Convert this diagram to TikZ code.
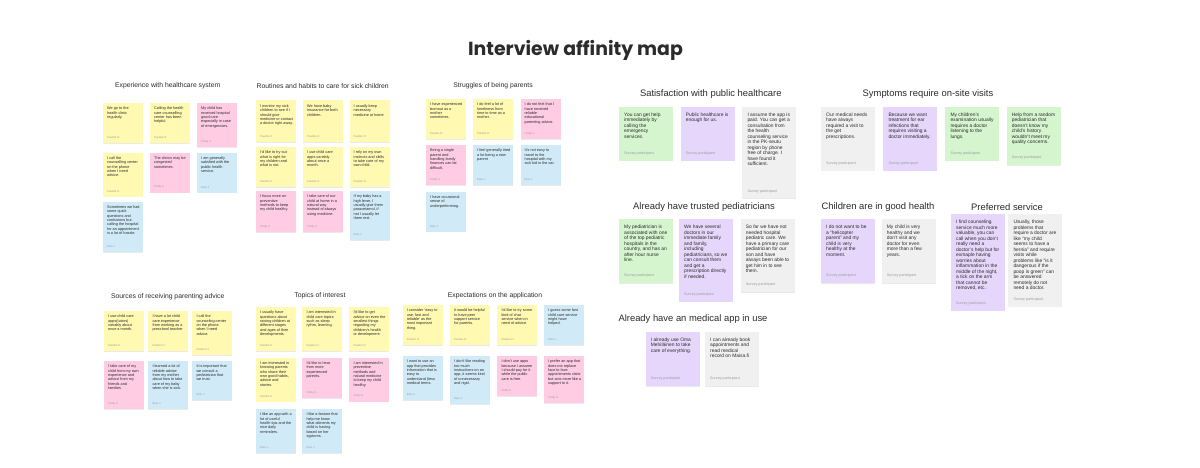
\documentclass[tikz,border=0pt]{standalone}
\usepackage{fontspec}
\setmainfont{Liberation Sans}
\newfontfamily\poppins{Poppins}
\usetikzlibrary{shadows}
\definecolor{sy}{HTML}{FFF9B1}
\definecolor{sp}{HTML}{FFCCE4}
\definecolor{sb}{HTML}{D0EBF7}
\definecolor{sg}{HTML}{D4F5CE}
\definecolor{sv}{HTML}{E7D6FB}
\definecolor{sa}{HTML}{F0F0F0}
\definecolor{ink}{HTML}{2B2B2B}
\definecolor{lab}{HTML}{9C9C9C}
\def\pxS{4}\def\pyS{4}\def\plS{5.5}
\def\pxL{5}\def\pyL{5.8}\def\plL{7.3}
\tikzset{
  stk/.style={anchor=north west, inner sep=0pt, outer sep=0pt, draw=none,
    drop shadow={shadow xshift=0pt, shadow yshift=-0.7pt, opacity=0.16}},
  txtS/.style={anchor=north west, inner sep=0pt, align=left, text=ink, font=\fontsize{3.8}{4.3}\selectfont},
  txtL/.style={anchor=north west, inner sep=0pt, align=left, text=ink, font=\fontsize{4.9}{5.5}\selectfont},
  labS/.style={anchor=west, inner sep=0pt, text=lab, font=\fontsize{2.8}{3}\selectfont},
  labL/.style={anchor=west, inner sep=0pt, text=lab, font=\fontsize{3.7}{4}\selectfont},
  sec/.style={text=ink, font=\fontsize{6.8}{8}\selectfont, inner sep=0pt},
  secL/.style={text=ink, font=\fontsize{9.4}{11}\selectfont, inner sep=0pt},
  ttl/.style={text=ink, font=\poppins\bfseries\fontsize{18.9}{21}\selectfont, inner sep=0pt},
}
% name, x, y, w, h, colour, text, label, size
\newcommand{\stk}[9]{%
  \node[stk, fill=#6, minimum width=#4pt, minimum height=#5pt] (#1) at (#2,-#3) {};
  \node[txt#9] (#1t) at ([xshift=\csname px#9\endcsname pt, yshift=-\csname py#9\endcsname pt]#1.north west) {#7};
  \node[lab#9] (#1l) at ([xshift=\csname px#9\endcsname pt, yshift=\csname pl#9\endcsname pt]#1.south west) {#8};
}
\begin{document}
\begin{tikzpicture}[x=1pt,y=1pt]
\useasboundingbox (0,0) rectangle (1200,-468);
\fill[white] (0,0) rectangle (1200,-468);

\node[ttl] (title) at (575.5,-50) {Interview affinity map};

% ---------- Experience with healthcare system
\node[sec] (h1) at (167.7,-86) {Experience with healthcare system};
\stk{e1}{103}{103}{40}{40}{sy}{We go to the\\health clinic\\regularly.}{Pauline H}{S}
\stk{e2}{150}{103}{40}{40}{sy}{Calling the health\\care counselling\\center has been\\helpful.}{Pauline H}{S}
\stk{e3}{197}{103}{40}{44.5}{sp}{My child has\\received hospital\\good care\\especially in case\\of emergencies.}{Cindy S}{S}
\stk{e4}{103}{152.7}{40}{44}{sy}{I call the\\counselling center\\on the phone\\when I need\\advice.}{Pauline H}{S}
\stk{e5}{150}{152.7}{40}{40}{sp}{The clinics may be\\congested\\sometimes.}{Cindy S}{S}
\stk{e6}{197}{152.7}{40}{40}{sb}{I am generally\\satisfied with the\\public health\\service.}{Eetu J}{S}
\stk{e7}{103}{201.7}{40}{50.5}{sb}{Sometimes we had\\some quick\\questions and\\confusions but\\calling the hospital\\for an appointment\\is a lot of hassle.}{Eetu J}{S}

% ---------- Routines
\node[sec] (h2) at (322.7,-86) {Routines and habits to care for sick children};
\stk{r1}{256}{100.5}{40}{41.5}{sy}{I monitor my sick\\children to see if I\\should give\\medicine or contact\\a doctor right away.}{Pauline H}{S}
\stk{r2}{303}{100.5}{40}{41.5}{sy}{We have baby\\insurance for both\\children.}{Pauline H}{S}
\stk{r3}{349.5}{100.5}{40}{41.5}{sy}{I usually keep\\necessary\\medicine at home}{Pauline H}{S}
\stk{r4}{256}{147}{40}{40}{sy}{I'd like to try out\\what is right for\\my children and\\what is not.}{Pauline H}{S}
\stk{r5}{303}{147}{40}{40}{sy}{I use child care\\apps variably\\about once a\\month.}{Pauline H}{S}
\stk{r6}{349.5}{147}{40}{40}{sy}{I rely on my own\\instincts and skills\\to take care of my\\own child.}{Pauline H}{S}
\stk{r7}{256}{191}{40}{41}{sp}{I focus more on\\preventive\\methods to keep\\my child healthy.}{Cindy S}{S}
\stk{r8}{303}{191}{40}{41}{sp}{I take care of our\\child at home in a\\natural way\\instead of always\\using medicine.}{Cindy S}{S}
\stk{r9}{349.5}{191}{40}{49}{sb}{If my baby has a\\high fever, I\\usually give them\\paracetamol, if\\not I usually let\\them rest.}{Eetu J}{S}

% ---------- Struggles
\node[sec] (h3) at (493,-86) {Struggles of being parents};
\stk{s1}{426}{99}{40}{40}{sy}{I have experienced\\burnout as a\\mother\\sometimes.}{Pauline H}{S}
\stk{s2}{473}{99}{40}{40}{sy}{I do feel a lot of\\loneliness from\\time to time as a\\mother.}{Pauline H}{S}
\stk{s3}{520.5}{99}{40}{40}{sp}{I do not feel that I\\have received\\reliable\\educational\\parenting advice.}{Cindy S}{S}
\stk{s4}{426}{145}{40}{40}{sp}{Being a single\\parent and\\handling family\\finances can be\\difficult.}{Cindy S}{S}
\stk{s5}{473}{145}{40}{40}{sb}{I feel generally tired\\a lot being a new\\parent}{Eetu J}{S}
\stk{s6}{520.5}{145}{40}{40}{sb}{It's not easy to\\travel to the\\hospital with my\\sick kid in the car.}{Eetu J}{S}
\stk{s7}{426}{191.7}{40}{40}{sb}{I have occasional\\sense of\\underperforming.}{Eetu J}{S}

% ---------- Sources
\node[sec] (h4) at (167.7,-296.7) {Sources of receiving parenting advice};
\stk{o1}{104}{311}{40}{40}{sy}{I use child care\\apps(tutors)\\variably about\\once a month.}{Pauline H}{S}
\stk{o2}{148.3}{311}{40}{40}{sy}{I have a lot child\\care experience\\from working as a\\preschool teacher}{Pauline H}{S}
\stk{o3}{192.3}{311}{40}{44}{sy}{I call the\\counseling center\\on the phone\\when I need\\advice.}{Pauline H}{S}
\stk{o4}{104}{361}{40}{48}{sp}{I take care of my\\child from my own\\experience and\\advice from my\\friends and\\families}{Cindy S}{S}
\stk{o5}{148.3}{361}{40}{48}{sb}{I learned a lot of\\reliable advice\\from my mother\\about how to take\\care of my baby\\when she is sick.}{Eetu J}{S}
\stk{o6}{192.3}{361}{40}{39}{sb}{It is important that\\we consult a\\pediatrician that\\we trust.}{Eetu J}{S}

% ---------- Topics
\node[sec] (h5) at (320,-296) {Topics of interest};
\stk{t1}{256}{307}{40}{44}{sy}{I usually have\\questions about\\raising children at\\different stages\\and ages of their\\developments.}{Pauline H}{S}
\stk{t2}{302.3}{307}{40}{44}{sy}{I am interested in\\child care topics\\such as sleep\\rythm, learning.}{Pauline H}{S}
\stk{t3}{349.3}{307}{40}{44}{sy}{I'd like to get\\advice on even the\\smallest things\\regarding my\\children's health\\or development}{Pauline H}{S}
\stk{t4}{256}{357.7}{40}{44}{sy}{I am interested in\\knowing parents\\who share their\\own good habits,\\advice and\\stories.}{Pauline H}{S}
\stk{t5}{302.3}{357.7}{40}{40.3}{sp}{I'd like to hear\\from more\\experienced\\parents.}{Cindy S}{S}
\stk{t6}{349.3}{357.7}{40}{44}{sp}{I am interested in\\preventive\\methods and\\natural medicine\\to keep my child\\healthy.}{Cindy S}{S}
\stk{t7}{256}{409}{40}{44}{sb}{I like an app with a\\lot of useful\\health tips and the\\nice daily\\reminders.}{Eetu J}{S}
\stk{t8}{302.3}{409}{40}{44}{sb}{I like a feature that\\help me know\\what ailments my\\child is having\\based on her\\syptoms.}{Eetu J}{S}

% ---------- Expectations
\node[sec] (h6) at (495,-296) {Expectations on the application};
\stk{x1}{402.7}{305}{40}{40}{sy}{I consider 'easy to\\use, fast and\\reliable' as the\\most important\\thing.}{Pauline H}{S}
\stk{x2}{450}{305}{40}{40}{sy}{It would be helpful\\to have peer\\support service\\for parents.}{Pauline H}{S}
\stk{x3}{497.3}{305}{40}{40}{sy}{I'd like to try some\\kind of chat\\service when in\\need of advice.}{Pauline H}{S}
\stk{x4}{544}{305}{40}{40}{sb}{I guess some fast\\child care service\\might have\\helped.}{Eetu J}{S}
\stk{x5}{402.7}{356}{40}{44}{sb}{I want to use an\\app that provides\\information that is\\easy to\\understand (less\\medical terms.}{Eetu J}{S}
\stk{x6}{450}{356}{40}{48}{sb}{I don't like reading\\too much\\instructions on an\\app, it seems kind\\of unnecessary\\and rigid.}{Eetu J}{S}
\stk{x7}{497.3}{356}{40}{40}{sp}{I don't use apps\\because I assume\\I should pay for it\\while the public\\care is free.}{Cindy S}{S}
\stk{x8}{544}{356}{40}{47}{sp}{I prefer an app that\\does not replace\\face to face\\appointments visits\\but acts more like a\\support to it.}{Cindy S}{S}

% ---------- Satisfaction with public healthcare
\node[secL] (k1) at (710.8,-94) {Satisfaction with public healthcare};
\stk{a1}{619}{106.7}{54}{54}{sg}{You can get help\\immediately by\\calling the\\emergency\\services.}{Survey participant}{L}
\stk{a2}{680.7}{106.7}{54}{54}{sv}{Public healthcare is\\enough for us.}{Survey participant}{L}
\stk{a3}{742.3}{106.7}{54}{91.7}{sa}{I assume the app is\\paid. You can get a\\consultation from\\the health\\counseling service\\in the PK-seutu\\region by phone\\free of charge. I\\have found it\\sufficient.}{Survey participant}{L}

% ---------- Symptoms require on-site visits
\node[secL] (k2) at (928,-94) {Symptoms require on-site visits};
\stk{b1}{821}{106.7}{54}{64}{sa}{Our medical needs\\have always\\required a visit to\\the get\\prescriptions.}{Survey participant}{L}
\stk{b2}{883.3}{106.7}{54}{64}{sv}{Because we want\\treatment for ear\\infections that\\requires visiting a\\doctor immediately.}{Survey participant}{L}
\stk{b3}{945.3}{106.7}{54}{54}{sg}{My children's\\examination usually\\requires a doctor\\listening to the\\lungs.}{Survey participant}{L}
\stk{b4}{1006.7}{106.7}{54}{58.3}{sg}{Help from a random\\pediatrician that\\doesn't know my\\child's history\\wouldn't meet my\\quality concerns.}{Survey participant}{L}

% ---------- Already have trusted pediatricians
\node[secL] (k3) at (704,-206.7) {Already have trusted pediatricians};
\stk{c1}{619}{219}{54}{64.3}{sg}{My pediatrician is\\associated with one\\of the top pediatric\\hospitals in the\\country, and has an\\after hour nurse\\line.}{Survey participant}{L}
\stk{c2}{679}{219}{54}{82.7}{sv}{We have several\\doctors in our\\immediate family\\and family,\\including\\pediatricians, so we\\can consult them\\and get a\\prescription directly\\if needed.}{Survey participant}{L}
\stk{c3}{740.7}{219}{54}{73.3}{sa}{So far we have not\\needed hospital\\pediatric care. We\\have a primary care\\pediatrician for our\\son and have\\always been able to\\get him in to see\\them.}{Survey participant}{L}

% ---------- Children are in good health
\node[secL] (k4) at (878,-206.7) {Children are in good health};
\stk{d1}{821}{219}{54}{64.3}{sv}{I do not want to be\\a ``helicopter\\parent'' and my\\child is very\\healthy at the\\moment.}{Survey participant}{L}
\stk{d2}{881.7}{219}{54}{64.3}{sa}{My child is very\\healthy and we\\don't visit any\\doctor for even\\more than a few\\years.}{Survey participant}{L}

% ---------- Preferred service
\node[secL] (k5) at (1007,-206.7) {Preferred service};
\stk{f1}{951}{214.3}{54}{96.4}{sv}{I find counseling\\service much more\\valuable, you can\\call when you don't\\really need a\\doctor's help but for\\exmaple having\\worries about\\inflammation in the\\middle of the night,\\a tick on the arm\\that cannot be\\removed, etc.}{Survey participant}{L}
\stk{f2}{1008.3}{214.3}{54}{92.4}{sa}{Usually, those\\problems that\\require a doctor are\\like ``my child\\seems to have a\\hernia'' and require\\visits while\\problems like ``is it\\dangerous if the\\poop is green'' can\\be answered\\remotely do not\\need a doctor.}{Survey participant}{L}

% ---------- Already have an medical app in use
\node[secL] (k6) at (693,-319) {Already have an medical app in use};
\stk{g1}{645.7}{331.7}{54}{54.3}{sv}{I already use Oma\\Mehiläinen to take\\care of everything.}{Survey participant}{L}
\stk{g2}{705}{331.7}{54}{54.3}{sa}{I can already book\\appointments and\\read medical\\record on Maisa.fi}{Survey participant}{L}
\end{tikzpicture}
\end{document}
